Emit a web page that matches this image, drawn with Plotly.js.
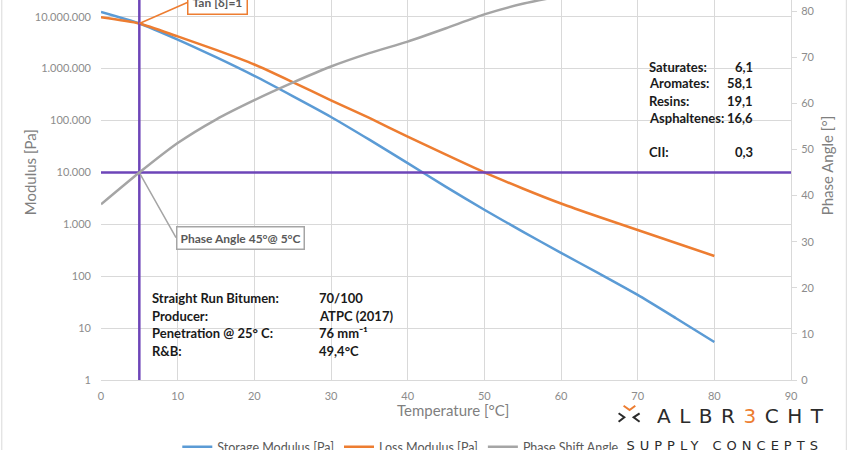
<!DOCTYPE html>
<html>
<head>
<meta charset="utf-8">
<script src="https://cdn.plot.ly/plotly-3.0.1.min.js"></script>
<style>
  html, body { margin: 0; padding: 0; background: #fff; }
  #chart { width: 850px; height: 450px; }
</style>
</head>
<body>
<div id="chart"></div>
<script>
// ---------------------------------------------------------------------------
// Data (70/100 straight run bitumen, ATPC 2017)
// ---------------------------------------------------------------------------
const temperature = [0, 5, 10, 15, 20, 25, 30, 35, 40, 45, 50, 55, 60, 65, 70, 75, 80];
const storageModulus = [1.23e7, 7.41e6, 3.63e6, 1.66e6, 7.24e5, 2.95e5, 1.17e5, 4.27e4, 1.51e4,
  5250, 1905, 724, 282, 112, 43.6, 15.5, 5.4];
const lossModulus = [9.77e6, 7.41e6, 4.17e6, 2.29e6, 1.2e6, 5.5e5, 2.45e5, 1.12e5, 4.9e4,
  2.19e4, 1.0e4, 4900, 2512, 1380, 776, 437, 245];
const phaseAngle = [38.1, 45.0, 51.4, 56.5, 60.7, 64.5, 68.0, 70.9, 73.4, 76.3, 79.3, 81.6,
  83.3, 84.8, 86.2, 87.4, 88.5];

// Guide lines: tan(δ)=1 at 5 °C and the 10.000 Pa / 45° level
const guideX = [5, 5];
const guideY = [1, 1e8];
const levelX = [0, 90];
const levelY = [1e4, 1e4];

const infoLabels = ['Straight Run Bitumen:', 'Producer:', 'Penetration @ 25° C:', 'R&B:'];
const infoValues = ['70/100', 'ATPC (2017)', '76 mm⁻¹', '49,4°C'];
const compLabels = ['Saturates:', 'Aromates:', 'Resins:', 'Asphaltenes:', 'CII:'];
const compValues = ['6,1', '58,1', '19,1', '16,6', '0,3'];

const seriesNames = ['Storage Modulus [Pa]', 'Loss Modulus [Pa]', 'Phase Shift Angle'];
const seriesColors = ['#5b9bd5', '#ed7d31', '#a5a5a5'];
const PURPLE = '#6d45b8';
const GRID = '#d9d9d9';
const FONT = 'Lato, "Open Sans", sans-serif';

// ---------------------------------------------------------------------------
// Layout geometry. The picture is cropped: the plot area continues above the
// top edge, so the axes ranges stop where the picture stops.
// ---------------------------------------------------------------------------
const W = 850, H = 450;
const M = { l: 100.7, r: 59.3, t: 0, b: 70, autoexpand: false };
const plotW = W - M.l - M.r;
const plotH = H - M.t - M.b;
const px = (x) => (x - M.l) / plotW;          // page px -> paper x
const py = (y) => (plotH + M.t - y) / plotH;  // page px -> paper y

const traces = [
  {
    x: temperature, y: storageModulus, name: seriesNames[0], type: 'scatter', mode: 'lines',
    line: { color: seriesColors[0], width: 2.5, shape: 'spline', smoothing: 0.6 },
  },
  {
    x: temperature, y: lossModulus, name: seriesNames[1], type: 'scatter', mode: 'lines',
    line: { color: seriesColors[1], width: 2.5, shape: 'spline', smoothing: 0.6 },
  },
  {
    x: temperature, y: phaseAngle, name: seriesNames[2], type: 'scatter', mode: 'lines',
    yaxis: 'y2', line: { color: seriesColors[2], width: 2.5, shape: 'spline', smoothing: 0.6 },
  },
  {
    x: guideX, y: guideY, type: 'scatter', mode: 'lines', showlegend: false,
    line: { color: PURPLE, width: 2.5 },
  },
  {
    x: levelX, y: levelY, type: 'scatter', mode: 'lines', showlegend: false,
    line: { color: PURPLE, width: 2.5 },
  },
];

const textFont = { family: FONT, size: 13, color: '#1a1a1a', weight: 700 };
const calloutFont = { family: FONT, size: 12, color: '#595959', weight: 700 };
const annotations = [];

// callout boxes
annotations.push({
  x: 5, y: Math.log10(storageModulus[1]), xref: 'x', yref: 'y',
  text: 'Tan [δ]=1', showarrow: true, arrowhead: 0, arrowwidth: 1.5, arrowcolor: seriesColors[1],
  ax: 48, ay: -21, xanchor: 'left', yanchor: 'middle', standoff: 0,
  bgcolor: '#fff', bordercolor: seriesColors[1], borderwidth: 1.5, borderpad: 4,
  font: calloutFont,
});
annotations.push({
  x: 5, y: phaseAngle[1], xref: 'x', yref: 'y2',
  text: 'Phase Angle 45°@ 5°C', showarrow: true, arrowhead: 0, arrowwidth: 1.5,
  arrowcolor: seriesColors[2], ax: 36.7, ay: 65, xanchor: 'left', yanchor: 'middle', standoff: 0,
  bgcolor: '#fff', bordercolor: seriesColors[2], borderwidth: 1.5, borderpad: 3,
  font: calloutFont,
});

// sample info block
const infoRows = [298.3, 315.7, 333, 350.7];
infoLabels.forEach((t, i) => {
  annotations.push({ xref: 'paper', yref: 'paper', x: px(150), y: py(infoRows[i]), text: t,
    showarrow: false, xanchor: 'left', yanchor: 'middle', font: textFont });
  annotations.push({ xref: 'paper', yref: 'paper', x: px(316.7), y: py(infoRows[i]), text: infoValues[i],
    showarrow: false, xanchor: 'left', yanchor: 'middle', font: textFont });
});

// SARA composition block
const compRows = [66.7, 83.3, 100.7, 118, 152.3];
compLabels.forEach((t, i) => {
  annotations.push({ xref: 'paper', yref: 'paper', x: px(646.7), y: py(compRows[i]), text: t,
    showarrow: false, xanchor: 'left', yanchor: 'middle', font: textFont });
  annotations.push({ xref: 'paper', yref: 'paper', x: px(754.3), y: py(compRows[i]), text: compValues[i],
    showarrow: false, xanchor: 'right', yanchor: 'middle', font: textFont });
});

// axis titles (placed by hand because the plot area runs past the top edge)
const titleFont = { family: FONT, size: 15, color: '#7f7f7f' };
annotations.push({ xref: 'paper', yref: 'paper', x: px(19), y: py(172), text: 'Modulus [Pa]',
  textangle: -90, showarrow: false, font: titleFont });
annotations.push({ xref: 'paper', yref: 'paper', x: px(838), y: py(165), text: 'Phase Angle [°]',
  textangle: -90, showarrow: false, font: titleFont });
annotations.push({ xref: 'paper', yref: 'paper', x: px(453), y: py(421), text: 'Temperature [°C]',
  showarrow: false, font: titleFont });

// logo
const LOGO_SPACING = 8.5, TAG_SPACING = 5;
annotations.push({ xref: 'paper', yref: 'paper', x: px(740 + LOGO_SPACING / 2), y: py(416),
  xanchor: 'center', yanchor: 'middle', showarrow: false,
  text: 'ALBR<span style="color:#ed7d31">3</span>CHT',
  font: { family: '"DejaVu Sans", sans-serif', size: 20, color: '#2b2b2b' } });
annotations.push({ xref: 'paper', yref: 'paper', x: px(721.5 + TAG_SPACING / 2), y: py(445),
  xanchor: 'center', yanchor: 'middle', showarrow: false, text: 'SUPPLY CONCEPTS',
  font: { family: '"DejaVu Sans", sans-serif', size: 13, color: '#2b2b2b' } });

const iconLine = (pts, color) => ({
  type: 'path', xref: 'paper', yref: 'paper',
  path: pts.map((p, i) => (i ? 'L' : 'M') + px(p[0]) + ',' + py(p[1])).join(' '),
  line: { color, width: 2 },
});

const shapes = [
  iconLine([[623.3, 405.7], [629.3, 410], [635, 405.7]], '#ed7d31'),
  iconLine([[618.3, 413.3], [624, 417.3], [618.3, 421.7]], '#2b2b2b'),
  iconLine([[639.3, 413.3], [633.3, 417.3], [639.3, 421.7]], '#2b2b2b'),
  // chart frame edges
  { type: 'line', xref: 'paper', yref: 'paper', x0: px(1.5), x1: px(1.5), y0: py(-5), y1: py(455),
    line: { color: GRID, width: 1 } },
  { type: 'line', xref: 'paper', yref: 'paper', x0: px(846), x1: px(846), y0: py(-5), y1: py(455),
    line: { color: GRID, width: 1 } },
];

const tickFont = { family: FONT, size: 11, color: '#8c8c8c' };

const layout = {
  width: W, height: H,
  margin: M,
  paper_bgcolor: '#fff', plot_bgcolor: '#fff',
  separators: ',.',
  font: { family: FONT },
  showlegend: true,
  legend: {
    orientation: 'h', x: px(177), xanchor: 'left', y: py(432), yanchor: 'top',
    font: { family: FONT, size: 12.5, color: '#595959' }, bgcolor: 'rgba(0,0,0,0)',
    itemwidth: 30, tracegroupgap: 0,
  },
  xaxis: {
    range: [0, 90], dtick: 10, tick0: 0, showgrid: true, gridcolor: GRID, gridwidth: 1,
    zeroline: false, showline: true, linecolor: GRID, ticks: '', tickfont: tickFont,
    ticklabelstandoff: 6,
  },
  yaxis: {
    type: 'log', range: [0, 7.322], dtick: 1, showgrid: true, gridcolor: GRID,
    zeroline: false, showline: false, ticks: '', tickformat: ',.0f', tickfont: tickFont,
    ticklabelstandoff: 9,
  },
  yaxis2: {
    overlaying: 'y', side: 'right', range: [0, 82.43], dtick: 10, showgrid: false,
    zeroline: false, showline: true, linecolor: GRID, ticks: 'outside', ticklen: 5,
    tickcolor: GRID, tickfont: tickFont, ticklabelstandoff: 2,
  },
  annotations,
  shapes,
};

Plotly.newPlot('chart', traces, layout, { staticPlot: true, displayModeBar: false }).then(() => {
  // widen the tracking of the logo lettering
  document.querySelectorAll('.annotation-text').forEach((el) => {
    const t = el.textContent;
    if (t === 'ALBR3CHT') el.setAttribute('letter-spacing', String(LOGO_SPACING));
    if (t === 'SUPPLY CONCEPTS') el.setAttribute('letter-spacing', String(TAG_SPACING));
  });
});
</script>
</body>
</html>
